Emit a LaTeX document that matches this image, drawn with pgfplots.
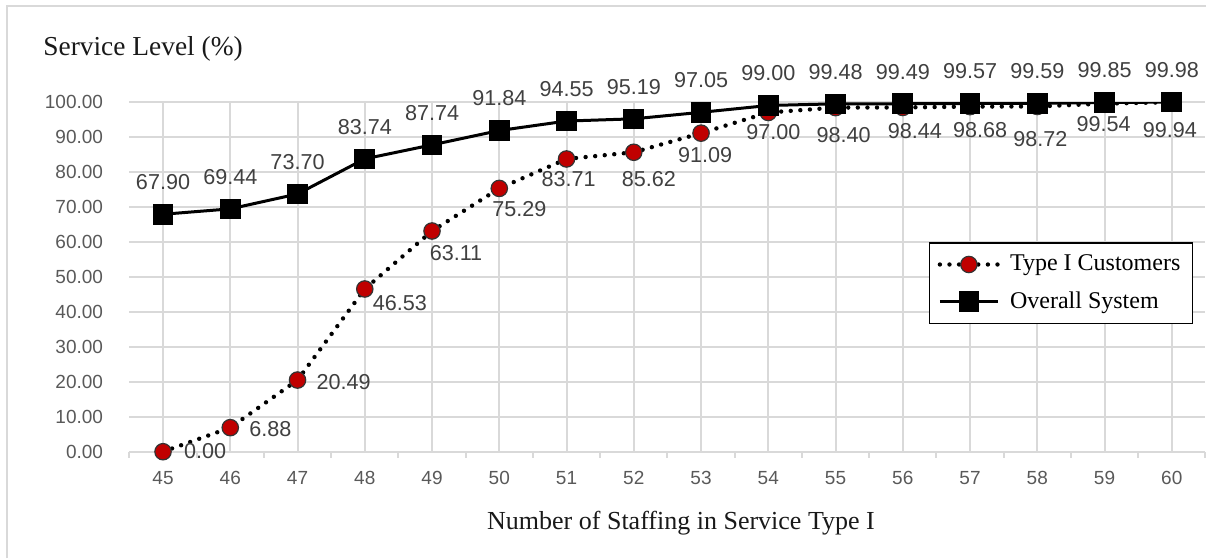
\documentclass[border=0pt]{standalone}
\usepackage{pgfplots}
\pgfplotsset{compat=1.18}
\usepackage{pgfplotstable}
\usepackage{fontspec}
\setmainfont{Liberation Serif}
\newfontfamily\arialf{Liberation Sans}
\definecolor{gridgray}{HTML}{D9D9D9}
\definecolor{tickgray}{HTML}{595959}
\definecolor{labgray}{HTML}{404040}
\definecolor{darkred}{HTML}{C00000}

\pgfplotstableread{
x y dx dy
45 0.00 21 0.5
46 6.88 20 -0.7
47 20.49 23 -1
48 46.53 17.5 -7
49 63.11 12 -11
50 75.29 10 -10.5
51 83.71 1 -10
52 85.62 7.5 -13.5
53 91.09 2 -11
54 97.00 2.5 -10
55 98.40 4 -13.5
56 98.44 6 -12
57 98.68 5 -11.5
58 98.72 1.5 -16.5
59 99.54 -0.5 -10
60 99.94 -1 -14
}\typeone

\pgfplotstableread{
x y
45 67.90
46 69.44
47 73.70
48 83.74
49 87.74
50 91.84
51 94.55
52 95.19
53 97.05
54 99.00
55 99.48
56 99.49
57 99.57
58 99.59
59 99.85
60 99.98
}\overall

\begin{document}
\begin{tikzpicture}
\useasboundingbox (0,0) rectangle (603pt,279pt);
\draw[gridgray, line width=1pt] (3.5pt,0) -- (3.5pt,276pt) -- (603pt,276pt);
\begin{axis}[
  at={(64.7pt,53.15pt)}, anchor=south west,
  scale only axis, width=538pt, height=174.85pt,
  xmin=44.5, xmax=60.5, ymin=0, ymax=100,
  xtick={45,...,60}, ytick={0,10,...,100},
  minor xtick={44.5,45.5,...,60.5},
  major tick length=0pt, minor tick length=3pt,
  xtick align=outside, tick pos=left,
  minor tick style={gridgray, line width=1pt},
  axis line style={draw=none},
  xmajorgrids, ymajorgrids,
  grid style={gridgray, line width=1pt},
  /pgf/number format/assume math mode=true,
  ticklabel style={font=\arialf\fontsize{9.5}{11}\selectfont, text=tickgray},
  yticklabel style={/pgf/number format/fixed, /pgf/number format/fixed zerofill, /pgf/number format/precision=2, anchor=east, inner sep=0pt, xshift=-13pt},
  xticklabel style={anchor=north, inner sep=0pt, yshift=-9.75pt},
  legend image code/.code={\draw[mark repeat=2,mark phase=2,#1] plot coordinates {(0pt,0pt)(14.5pt,0pt)(29pt,0pt)};},
  legend style={at={(0.9886,0.5988)}, anchor=north east, draw=black, line width=0.75pt, fill=white,
    font=\fontsize{12}{14}\selectfont, inner xsep=4pt, inner ysep=4pt, row sep=5pt,
    cells={anchor=west}, /tikz/every odd column/.append style={column sep=3pt}},
]
\addplot[black, line width=2.2pt, line cap=round, dash pattern=on 0pt off 4.8pt,
  mark=*, mark size=4.1pt, mark options={solid, fill=darkred, draw=black!80, line width=0.6pt},
  nodes near coords,
  visualization depends on={\thisrow{dx} \as \ldx},
  visualization depends on={\thisrow{dy} \as \ldy},
  every node near coord/.append style={anchor=center, xshift=\ldx pt, yshift=\ldy pt,
    font=\arialf\fontsize{10.8}{12}\selectfont, text=labgray,
    /pgf/number format/fixed, /pgf/number format/fixed zerofill, /pgf/number format/precision=2}
] table[x=x, y=y] {\typeone};
\addlegendentry{Type I Customers}
\addplot[black, line width=1.5pt, mark=square*, mark size=4.4pt, mark options={solid},
  nodes near coords,
  every node near coord/.append style={anchor=center, yshift=16pt,
    font=\arialf\fontsize{10.8}{12}\selectfont, text=labgray,
    /pgf/number format/fixed, /pgf/number format/fixed zerofill, /pgf/number format/precision=2}
] table[x=x, y=y] {\overall};
\addlegendentry{Overall System}
\end{axis}
\node[anchor=base west, inner sep=0pt, font=\fontsize{13.7}{16}\selectfont, text=black!90] at (21.5pt,251pt) {Service Level (\%)};
\node[anchor=base, inner sep=0pt, font=\fontsize{13}{16}\selectfont, text=black!90] at (340.5pt,14.35pt) {Number of Staffing in Service Type I};
\end{tikzpicture}
\end{document}
